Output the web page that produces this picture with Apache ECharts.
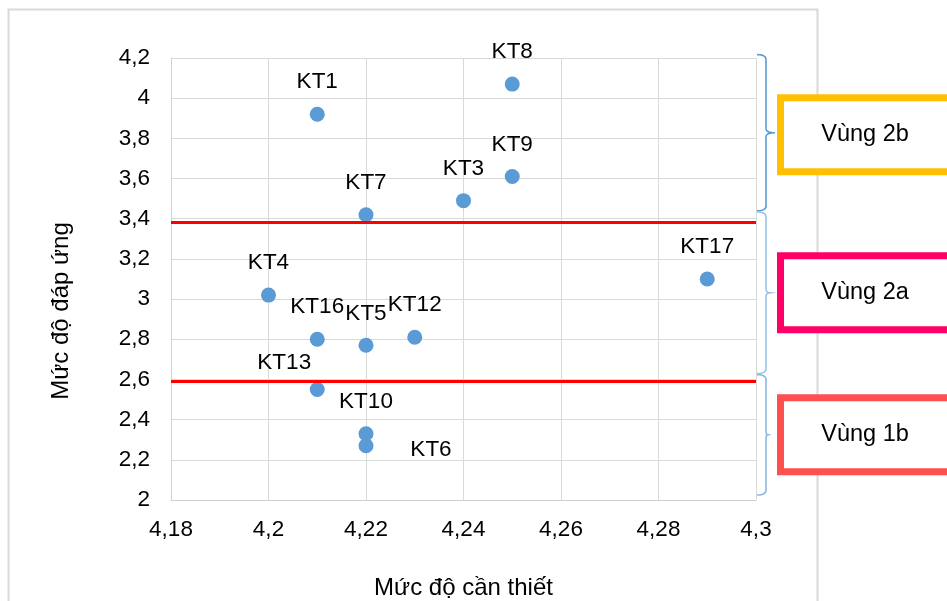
<!DOCTYPE html>
<html>
<head>
<meta charset="utf-8">
<script src="https://cdn.jsdelivr.net/npm/echarts@6/dist/echarts.min.js"></script>
<style>
  html, body { margin: 0; padding: 0; background: #fff; }
  #chart { width: 947px; height: 601px; }
</style>
</head>
<body>
<div id="chart"></div>
<script>
// Criteria: necessity (x) vs. how well they are met (y)
const names    = ['KT1', 'KT3', 'KT4', 'KT5', 'KT6', 'KT7', 'KT8', 'KT9', 'KT10', 'KT12', 'KT13', 'KT16', 'KT17'];
const canThiet = [4.21, 4.24, 4.20, 4.22, 4.22, 4.22, 4.25, 4.25, 4.22, 4.23, 4.21, 4.21, 4.29];
const dapUng   = [3.92, 3.49, 3.02, 2.77, 2.27, 3.42, 4.07, 3.61, 2.33, 2.81, 2.55, 2.80, 3.10];

// Horizontal zone boundaries (red lines)
const thresholds = [3.38, 2.59];

// Zone annotations on the right: name, colour, extent of the brace in y units
const zoneNames  = ['Vùng 2b', 'Vùng 2a', 'Vùng 1b'];
const zoneColors = ['#ffc000', '#ff0066', '#ff5050'];
const zoneTop    = [4.217, 3.434, 2.624];
const zoneBottom = [3.439, 2.629, 2.025];

const xTitle = 'Mức độ cần thiết';
const yTitle = 'Mức độ đáp ứng';

const FONT = '"Liberation Sans", Arial, sans-serif';
const fmt = v => String(parseFloat(Number(v).toFixed(2))).replace('.', ',');

// label nudges (from the point centre) for crowded points
const labelShift = { KT13: [-33, -27], KT6: [65, 4] };
const defaultShift = [0, -32];

const chart = echarts.init(document.getElementById('chart'));

const points = names.map((n, i) => ({ name: n, value: [canThiet[i], dapUng[i]] }));

chart.setOption({
  animation: false,
  backgroundColor: '#fff',
  grid: { left: 171, right: 191, top: 58, bottom: 101, containLabel: false, outerBoundsMode: 'none' },
  xAxis: {
    type: 'value',
    min: 4.18, max: 4.3, interval: 0.02,
    axisLine: { show: true, lineStyle: { color: '#d0d0d0', width: 1 } },
    axisTick: { show: false },
    splitLine: { show: true, lineStyle: { color: '#d9d9d9', width: 1 } },
    axisLabel: { formatter: fmt, color: '#000', fontSize: 22.5, fontFamily: FONT, margin: 18 },
    name: xTitle,
    nameLocation: 'middle',
    nameGap: 76,
    nameTextStyle: { color: '#000', fontSize: 24, fontFamily: FONT }
  },
  yAxis: {
    type: 'value',
    min: 2, max: 4.2, interval: 0.2,
    axisLine: { show: true, lineStyle: { color: '#d0d0d0', width: 1 } },
    axisTick: { show: false },
    splitLine: { show: true, lineStyle: { color: '#d9d9d9', width: 1 } },
    axisLabel: { formatter: fmt, color: '#000', fontSize: 22.5, fontFamily: FONT, margin: 21 }
  },
  series: [{
    type: 'scatter',
    symbol: 'circle',
    symbolSize: 15,
    itemStyle: { color: '#5b9bd5', opacity: 1 },
    data: points,
    label: {
      show: true,
      position: 'inside',
      formatter: '{b}',
      color: '#000',
      fontSize: 22.5,
      fontFamily: FONT
    },
    labelLayout: function (p) {
      const s = labelShift[names[p.dataIndex]] || defaultShift;
      return { dx: s[0], dy: s[1], hideOverlap: false };
    },
    markLine: {
      silent: true,
      symbol: ['none', 'none'],
      label: { show: false },
      lineStyle: { color: '#ff0000', width: 3, type: 'solid' },
      data: thresholds.map(v => ({ yAxis: v }))
    },
    z: 3
  }]
});

// Frame, y title, braces and zone boxes placed from the axis scale
function drawAnnotations() {
  const px = (x, y) => chart.convertToPixel({ gridIndex: 0 }, [x, y]);
  const right = px(4.3, 2)[0];
  const els = [{
    type: 'rect', silent: true, z: -10,
    shape: { x: 8.5, y: 9.5, width: 809, height: 620 },
    style: { fill: 'none', stroke: '#d9d9d9', lineWidth: 2 }
  }, {
    type: 'text', silent: true, z: 7,
    x: 61, y: 311, rotation: Math.PI / 2,
    style: {
      text: yTitle, fill: '#000', font: '24px ' + FONT,
      textAlign: 'center', textVerticalAlign: 'middle'
    }
  }];
  const tipLen = [19, 14, 12];
  const boxNudge = [2, 0, 0];
  const braceCol = ['#5b9bd5', '#9dc3e6', '#8cb8e2'];
  // quadratic curve sampled into polyline points
  const quad = (a, c, b, n) => {
    const out = [];
    for (let k = 1; k <= n; k++) {
      const t = k / n, u = 1 - t;
      out.push([u * u * a[0] + 2 * u * t * c[0] + t * t * b[0], u * u * a[1] + 2 * u * t * c[1] + t * t * b[1]]);
    }
    return out;
  };
  zoneNames.forEach((zn, i) => {
    const y0 = px(4.3, zoneTop[i])[1];
    const y1 = px(4.3, zoneBottom[i])[1];
    const ym = (y0 + y1) / 2;
    const x0 = right + 1, xm = right + 10, xt = right + tipLen[i];
    let pts = [[x0, y0]];
    pts = pts.concat(quad([x0, y0], [xm, y0], [xm, y0 + 5], 6));
    pts.push([xm, ym - 4]);
    pts = pts.concat(quad([xm, ym - 4], [xm, ym], [xt, ym], 5));
    pts = pts.concat(quad([xt, ym], [xm, ym], [xm, ym + 4], 5));
    pts.push([xm, y1 - 5]);
    pts = pts.concat(quad([xm, y1 - 5], [xm, y1], [x0, y1], 6));
    els.push({
      type: 'polyline', silent: true, z: 5,
      shape: { points: pts },
      style: { fill: 'none', stroke: braceCol[i], lineWidth: 1.6 }
    });
    const by = ym + boxNudge[i];
    // box runs past the right edge of the canvas
    els.push({
      type: 'rect', silent: true, z: 6,
      shape: { x: 780.5, y: by - 37, width: 220, height: 74 },
      style: { fill: '#fff', stroke: zoneColors[i], lineWidth: 7 }
    });
    els.push({
      type: 'text', silent: true, z: 7,
      x: 865, y: by,
      style: {
        text: zn, fill: '#000',
        font: '23.5px ' + FONT,
        textAlign: 'center', textVerticalAlign: 'middle'
      }
    });
  });
  chart.setOption({ graphic: { elements: els } });
}
drawAnnotations();
</script>
</body>
</html>
